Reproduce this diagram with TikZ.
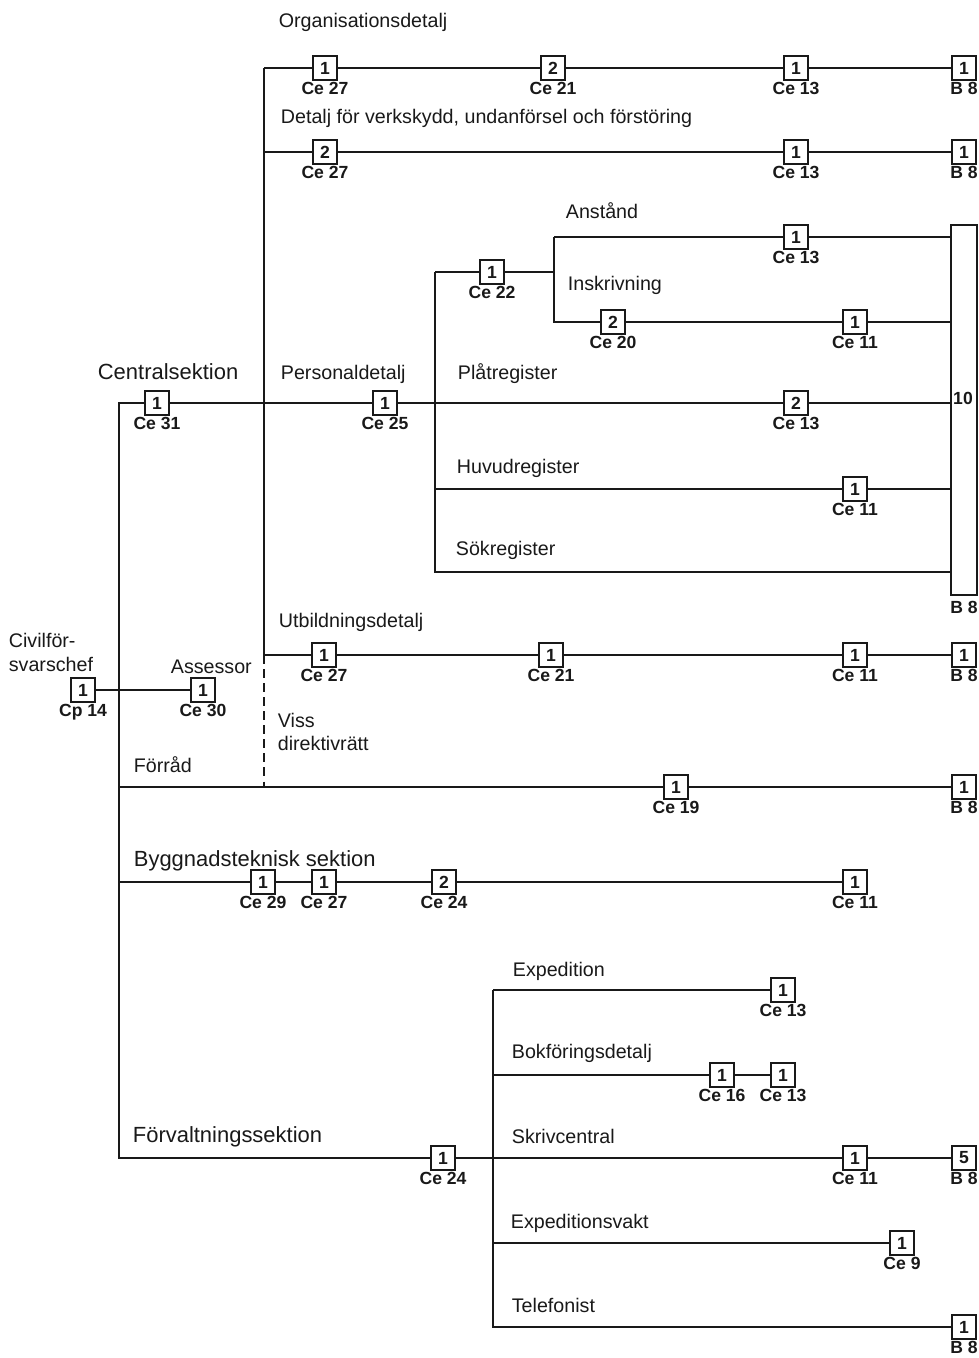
\documentclass[tikz,border=0pt]{standalone}
\usepackage{fontspec}
\setmainfont{Liberation Sans}
\usetikzlibrary{positioning}
\definecolor{inkBlack}{gray}{0.1}

\begin{document}
\begin{tikzpicture}[x=0.02cm, y=-0.02cm, line width=1pt, inkBlack,
    post/.style={draw, fill=white, minimum size=0.48cm, inner sep=0pt,
        label distance=2.5pt, font=\bfseries\fontsize{10}{12}\selectfont},
    code/.style={inner sep=0pt, font=\bfseries\fontsize{10}{12}\selectfont},
    txt/.style={inner sep=0pt, anchor=base west, font=\fontsize{11.2}{13}\selectfont},
    head/.style={txt, font=\fontsize{12.5}{14}\selectfont}]
    \useasboundingbox (0,0) rectangle (979,1358);

    % junctions
    \coordinate (cTop) at (264,68);
    \coordinate (cDet) at (264,152);
    \coordinate (cUtb) at (264,655);
    \coordinate (cFor) at (264,787);
    \coordinate (rTop) at (435,272);
    \coordinate (rHuv) at (435,489);
    \coordinate (rSok) at (435,572);
    \coordinate (aTop) at (554,237);
    \coordinate (aMid) at (554,272);
    \coordinate (aIns) at (554,322);
    \coordinate (lCen) at (119,403);
    \coordinate (lFor) at (119,787);
    \coordinate (lByg) at (119,882);
    \coordinate (lFvs) at (119,1158);
    \coordinate (eExp) at (493,990);
    \coordinate (eBok) at (493,1075);
    \coordinate (eSkr) at (493,1158);
    \coordinate (eVak) at (493,1243);
    \coordinate (eTel) at (493,1327);

    % register column
    \node[draw, minimum width=0.52cm, minimum height=7.4cm, inner sep=0pt,
        label={[code, label distance=2.5pt]below:B 8}] (reg) at (964,410) {};
    \node[code] (ten) at (963,398) {10};

    % posts
    \node[post, label={[code]below:Ce 27}] (o1) at (325,68) {1};
    \node[post, label={[code]below:Ce 21}] (o2) at (553,68) {2};
    \node[post, label={[code]below:Ce 13}] (o3) at (796,68) {1};
    \node[post, label={[code]below:B 8}] (o4) at (964,68) {1};

    \node[post, label={[code]below:Ce 27}] (d1) at (325,152) {2};
    \node[post, label={[code]below:Ce 13}] (d2) at (796,152) {1};
    \node[post, label={[code]below:B 8}] (d3) at (964,152) {1};

    \node[post, label={[code]below:Ce 22}] (r1) at (492,272) {1};
    \node[post, label={[code]below:Ce 13}] (a1) at (796,237) {1};
    \node[post, label={[code]below:Ce 20}] (i1) at (613,322) {2};
    \node[post, label={[code]below:Ce 11}] (i2) at (855,322) {1};

    \node[post, label={[code]below:Ce 31}] (c1) at (157,403) {1};
    \node[post, label={[code]below:Ce 25}] (p1) at (385,403) {1};
    \node[post, label={[code]below:Ce 13}] (pl1) at (796,403) {2};
    \node[post, label={[code]below:Ce 11}] (h1) at (855,489) {1};

    \node[post, label={[code]below:Ce 27}] (u1) at (324,655) {1};
    \node[post, label={[code]below:Ce 21}] (u2) at (551,655) {1};
    \node[post, label={[code]below:Ce 11}] (u3) at (855,655) {1};
    \node[post, label={[code]below:B 8}] (u4) at (964,655) {1};

    \node[post, label={[code]below:Cp 14}] (chef) at (83,690) {1};
    \node[post, label={[code]below:Ce 30}] (ass) at (203,690) {1};

    \node[post, label={[code]below:Ce 19}] (f1) at (676,787) {1};
    \node[post, label={[code]below:B 8}] (f2) at (964,787) {1};

    \node[post, label={[code]below:Ce 29}] (b1) at (263,882) {1};
    \node[post, label={[code]below:Ce 27}] (b2) at (324,882) {1};
    \node[post, label={[code]below:Ce 24}] (b3) at (444,882) {2};
    \node[post, label={[code]below:Ce 11}] (b4) at (855,882) {1};

    \node[post, label={[code]below:Ce 24}] (v1) at (443,1158) {1};
    \node[post, label={[code]below:Ce 13}] (e1) at (783,990) {1};
    \node[post, label={[code]below:Ce 16}] (k1) at (722,1075) {1};
    \node[post, label={[code]below:Ce 13}] (k2) at (783,1075) {1};
    \node[post, label={[code]below:Ce 11}] (s1) at (855,1158) {1};
    \node[post, label={[code]below:B 8}] (s2) at (964,1158) {5};
    \node[post, label={[code]below:Ce 9}] (x1) at (902,1243) {1};
    \node[post, label={[code]below:B 8}] (t1) at (964,1327) {1};

    % lines
    \draw (cTop) -- (o1) -- (o2) -- (o3) -- (o4);
    \draw (cDet) -- (d1) -- (d2) -- (d3);
    \draw (cTop) -- (cUtb) -- (u1) -- (u2) -- (u3) -- (u4);
    \draw[dash pattern=on 5pt off 3pt] (cUtb) -- (cFor);
    \draw (c1) -- (p1) -- (pl1) -- (reg.west |- pl1);
    \draw (rTop) -- (rSok) -- (reg.west |- rSok);
    \draw (rHuv) -- (h1) -- (reg.west |- h1);
    \draw (rTop) -- (r1) -- (aMid);
    \draw (aTop) -- (aIns) -- (i1) -- (i2) -- (reg.west |- i2);
    \draw (aTop) -- (a1) -- (reg.west |- a1);
    \draw (c1) -- (lCen) -- (lFvs) -- (v1) -- (s1) -- (s2);
    \draw (chef) -- (ass);
    \draw (lFor) -- (f1) -- (f2);
    \draw (lByg) -- (b1) -- (b2) -- (b3) -- (b4);
    \draw (eExp) -- (eTel) -- (t1);
    \draw (eExp) -- (e1);
    \draw (eBok) -- (k1) -- (k2);
    \draw (eVak) -- (x1);

    % texts
    \node[txt] (tOrg) at (278,28) {Organisationsdetalj};
    \node[txt] (tDet) at (280,124) {Detalj för verkskydd, undanförsel och förstöring};
    \node[txt] (tAns) at (565,219) {Anstånd};
    \node[txt] (tIns) at (567,291) {Inskrivning};
    \node[head] (tCen) at (97,379) {Centralsektion};
    \node[txt] (tPer) at (280,379) {Personaldetalj};
    \node[txt] (tPla) at (457,379) {Plåtregister};
    \node[txt] (tHuv) at (456,473) {Huvudregister};
    \node[txt] (tSok) at (455,555) {Sökregister};
    \node[txt] (tUtb) at (278,627) {Utbildningsdetalj};
    \node[txt] (tCiv) at (8,647) {Civilför-};
    \node[txt] (tSva) at (8,671) {svarschef};
    \node[txt] (tAss) at (170,673) {Assessor};
    \node[txt] (tVis) at (277,727) {Viss};
    \node[txt] (tDir) at (277,750) {direktivrätt};
    \node[txt] (tFor) at (133,772) {Förråd};
    \node[head] (tByg) at (133,866) {Byggnadsteknisk sektion};
    \node[head] (tFvs) at (132,1142) {Förvaltningssektion};
    \node[txt] (tExp) at (512,976) {Expedition};
    \node[txt] (tBok) at (511,1058) {Bokföringsdetalj};
    \node[txt] (tSkr) at (511,1143) {Skrivcentral};
    \node[txt] (tVak) at (510,1228) {Expeditionsvakt};
    \node[txt] (tTel) at (511,1312) {Telefonist};
\end{tikzpicture}
\end{document}
